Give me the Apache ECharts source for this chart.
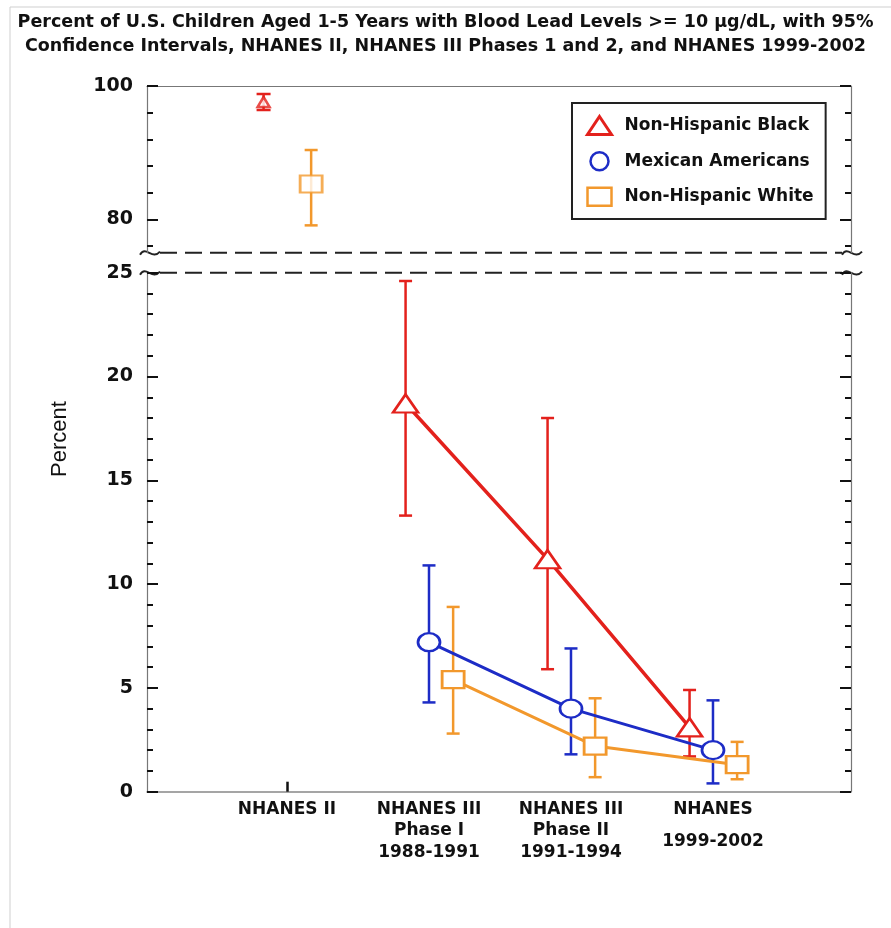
<!DOCTYPE html>
<html>
<head>
<meta charset="utf-8">
<title>Blood lead levels, children 1-5</title>
<script src="https://cdn.jsdelivr.net/npm/echarts@6/dist/echarts.min.js"></script>
<style>
  html, body { margin: 0; padding: 0; background: #fff; }
  #chart { width: 891px; height: 928px; }
</style>
</head>
<body>
<div id="chart"></div>
<script>
// survey periods (x categories)
const periods = ['NHANES II', 'NHANES III\nPhase I\n1988-1991', 'NHANES III\nPhase II\n1991-1994', 'NHANES\n1999-2002']

// percent with BLL >= 10 ug/dL, with 95% CI
const blackPct = [97.6, 18.7, 11.2, 3.1]
const blackLow = [96.4, 13.3, 5.9, 1.7]
const blackHigh = [98.8, 24.6, 18.0, 4.9]

const mexPct = [null, 7.2, 4.0, 2.0]
const mexLow = [null, 4.3, 1.8, 0.4]
const mexHigh = [null, 10.9, 6.9, 4.4]

const whitePct = [85.3, 5.4, 2.2, 1.3]
const whiteLow = [79.1, 2.8, 0.7, 0.6]
const whiteHigh = [90.4, 8.9, 4.5, 2.4]

// tick labels
const topTicks = [80, 100]
const topMinorTicks = [76, 84, 88, 92, 96]

const RED = '#e3211c'
const BLUE = '#1d2cc6'
const ORANGE = '#f2982c'
const FONT = 'DejaVu Sans'

const X_MIN = -0.986, X_MAX = 3.972
const BREAK = 75 // top panel starts here

const chart = echarts.init(document.getElementById('chart'))

// which panel a value belongs to
const inTop = v => v != null && v >= BREAK

function errorBars(name, color, dx, lows, highs, top, cap) {
  const data = []
  lows.forEach((lo, i) => {
    if (lo == null || inTop(lo) !== top) return
    data.push([i + dx, lo, highs[i]])
  })
  return {
    type: 'custom',
    name,
    xAxisIndex: top ? 0 : 2,
    yAxisIndex: top ? 0 : 4,
    z: 3,
    silent: true,
    data,
    encode: {x: 0, y: [1, 2]},
    renderItem(params, api) {
      const lo = api.coord([api.value(0), api.value(1)])
      const hi = api.coord([api.value(0), api.value(2)])
      const st = {stroke: color, lineWidth: 2.5}
      return {
        type: 'group',
        children: [
          {type: 'line', shape: {x1: hi[0], y1: hi[1], x2: lo[0], y2: lo[1]}, style: st},
          {type: 'line', shape: {x1: hi[0] - cap, y1: hi[1], x2: hi[0] + cap, y2: hi[1]}, style: st},
          {type: 'line', shape: {x1: lo[0] - cap, y1: lo[1], x2: lo[0] + cap, y2: lo[1]}, style: st}
        ]
      }
    }
  }
}

// connected points in the lower panel
function trend(name, color, dx, values, symbol, size, width) {
  const data = []
  values.forEach((v, i) => {
    if (v != null && !inTop(v)) data.push([i + dx, v])
  })
  return {
    type: 'line',
    name,
    xAxisIndex: 2,
    yAxisIndex: 4,
    z: 5,
    data,
    symbol,
    symbolSize: size,
    showAllSymbol: true,
    lineStyle: {color, width},
    itemStyle: {color: '#fff', borderColor: color, borderWidth: 2.5}
  }
}

// single points above the break
function topPoints(name, color, dx, values, symbol, size) {
  const data = []
  values.forEach((v, i) => {
    if (inTop(v)) data.push([i + dx, v])
  })
  return {
    type: 'scatter',
    name,
    xAxisIndex: 0,
    yAxisIndex: 0,
    z: 5,
    data,
    symbol,
    symbolSize: size,
    itemStyle: {color: '#fff', borderColor: color, borderWidth: 2.5}
  }
}

const majorTick = {show: true, inside: true, length: 11, lineStyle: {color: '#111', width: 2}}
const minorTick = {show: true, inside: true, length: 6, lineStyle: {color: '#111', width: 2}}
const axisLine = {show: true, onZero: false, lineStyle: {color: '#777', width: 1.2}}
const noLine = {show: false, onZero: false}
const yLabel = {fontFamily: FONT, fontWeight: 'bold', fontSize: 19, color: '#111', margin: 14}

const topGrid = {left: 147, right: 40, top: 86, height: 166.7}
const bottomGrid = {left: 147, right: 40, top: 272.7, height: 519}

const hiddenX = {
  type: 'value', min: X_MIN, max: X_MAX,
  axisLine: {show: false, onZero: false}, axisTick: {show: false}, axisLabel: {show: false}, splitLine: {show: false}
}

function squiggle(xc, y) {
  return {
    type: 'bezierCurve',
    shape: {x1: xc - 10, y1: y + 2, cpx1: xc - 4, cpy1: y - 8, cpx2: xc + 2, cpy2: y + 8, x2: xc + 10, y2: y - 1},
    style: {stroke: '#222', lineWidth: 2, fill: null}
  }
}

function breakLine(y) {
  return {
    type: 'line',
    shape: {x1: 160, y1: y, x2: 842, y2: y},
    style: {stroke: '#222', lineWidth: 2, lineDash: [17, 8]}
  }
}

const option = {
  backgroundColor: '#fff',
  animation: false,
  title: {
    text: 'Percent of U.S. Children Aged 1-5 Years with Blood Lead Levels >= 10 \u00b5g/dL, with 95%\nConfidence Intervals, NHANES II, NHANES III Phases 1 and 2, and NHANES 1999-2002',
    left: 'center',
    top: 0,
    padding: [10, 0, 0, 12],
    textStyle: {fontFamily: FONT, fontWeight: 'bold', fontSize: 17.5, lineHeight: 24, color: '#111'}
  },
  legend: {
    orient: 'vertical',
    left: 572,
    top: 103,
    padding: [12, 12, 12, 14],
    itemGap: 15,
    itemWidth: 24,
    itemHeight: 18,
    backgroundColor: '#fff',
    borderColor: '#222',
    borderWidth: 2,
    borderRadius: 0,
    selectedMode: false,
    textStyle: {fontFamily: FONT, fontWeight: 'bold', fontSize: 17, color: '#111', padding: [0, 0, 0, 8]},
    data: [
      {name: 'Non-Hispanic Black', icon: 'triangle', itemStyle: {color: '#fff', borderColor: RED, borderWidth: 3}},
      {name: 'Mexican Americans', icon: 'circle', itemStyle: {color: '#fff', borderColor: BLUE, borderWidth: 2.5}},
      {name: 'Non-Hispanic White', icon: 'rect', itemStyle: {color: '#fff', borderColor: ORANGE, borderWidth: 2.5}}
    ]
  },
  grid: [
    Object.assign({}, topGrid),
    Object.assign({}, topGrid),
    Object.assign({}, bottomGrid)
  ],
  xAxis: [
    Object.assign({}, hiddenX, {gridIndex: 0, position: 'top', axisLine: axisLine}),
    Object.assign({}, hiddenX, {gridIndex: 1}),
    {
      type: 'value', gridIndex: 2, min: X_MIN, max: X_MAX,
      axisLine: {show: true, onZero: false, lineStyle: {color: '#888', width: 1.5}},
      axisTick: {show: true, inside: true, length: 10, customValues: [0], lineStyle: {color: '#111', width: 2.5}},
      axisLabel: {
        customValues: [0, 1, 2, 3],
        margin: 7,
        fontFamily: FONT, fontWeight: 'bold', fontSize: 17, color: '#111', lineHeight: 21.5,
        formatter: v => {
          const i = Math.round(v)
          if (i === 3) return periods[i].split('\n').map((t, k) => k === 0 ? '{a|' + t + '}' : '{b|' + t + '}').join('\n')
          return periods[i]
        },
        rich: {
          a: {fontFamily: FONT, fontWeight: 'bold', fontSize: 17, color: '#111', lineHeight: 21.5},
          b: {fontFamily: FONT, fontWeight: 'bold', fontSize: 17, color: '#111', lineHeight: 43}
        }
      },
      splitLine: {show: false}
    }
  ],
  yAxis: [
    {
      type: 'value', gridIndex: 0, position: 'left', min: BREAK, max: 100,
      axisLine, axisTick: Object.assign({customValues: topTicks}, majorTick),
      axisLabel: Object.assign({customValues: topTicks}, yLabel),
      splitLine: {show: false}
    },
    {
      type: 'value', gridIndex: 0, position: 'right', min: BREAK, max: 100,
      axisLine, axisTick: Object.assign({customValues: topTicks}, majorTick),
      axisLabel: {show: false}, splitLine: {show: false}
    },
    {
      type: 'value', gridIndex: 1, position: 'left', min: BREAK, max: 100,
      axisLine: noLine, axisTick: Object.assign({customValues: topMinorTicks}, minorTick),
      axisLabel: {show: false}, splitLine: {show: false}
    },
    {
      type: 'value', gridIndex: 1, position: 'right', min: BREAK, max: 100,
      axisLine: noLine, axisTick: Object.assign({customValues: topMinorTicks}, minorTick),
      axisLabel: {show: false}, splitLine: {show: false}
    },
    {
      type: 'value', gridIndex: 2, position: 'left', min: 0, max: 25, interval: 5,
      axisLine, axisTick: majorTick,
      minorTick: {show: true, splitNumber: 5, length: 6, lineStyle: {color: '#111', width: 2}},
      axisLabel: yLabel, splitLine: {show: false}
    },
    {
      type: 'value', gridIndex: 2, position: 'right', min: 0, max: 25, interval: 5,
      axisLine, axisTick: majorTick,
      minorTick: {show: true, splitNumber: 5, length: 6, lineStyle: {color: '#111', width: 2}},
      axisLabel: {show: false}, splitLine: {show: false}
    }
  ],
  graphic: [
    {type: 'rect', shape: {x: 10, y: 7, width: 900, height: 940}, style: {stroke: '#cfcfcf', lineWidth: 1, fill: null}, silent: true},
    breakLine(252.7), breakLine(272.7),
    squiggle(150, 252.7), squiggle(150, 272.7),
    squiggle(852, 252.7), squiggle(852, 272.7),
    {
      type: 'text', x: 60, y: 439, rotation: Math.PI / 2,
      style: {text: 'Percent', font: 'normal 22px "Liberation Sans"', fill: '#111', align: 'center', verticalAlign: 'middle'}
    }
  ],
  series: [
    errorBars('Non-Hispanic Black', RED, -0.165, blackLow, blackHigh, true, 7),
    errorBars('Non-Hispanic Black', RED, -0.165, blackLow, blackHigh, false, 6.5),
    errorBars('Mexican Americans', BLUE, 0, mexLow, mexHigh, false, 6.5),
    errorBars('Non-Hispanic White', ORANGE, 0.17, whiteLow, whiteHigh, true, 6.5),
    errorBars('Non-Hispanic White', ORANGE, 0.17, whiteLow, whiteHigh, false, 6.5),
    trend('Mexican Americans', BLUE, 0, mexPct, 'circle', [22, 18], 3),
    trend('Non-Hispanic White', ORANGE, 0.17, whitePct, 'rect', [22, 17], 3),
    trend('Non-Hispanic Black', RED, -0.165, blackPct, 'triangle', [25, 18], 3.5),
    topPoints('Non-Hispanic Black', RED, -0.165, blackPct, 'triangle', [12, 10]),
    topPoints('Non-Hispanic White', ORANGE, 0.17, whitePct, 'rect', [22, 17])
  ]
}

chart.setOption(option)
</script>
</body>
</html>
